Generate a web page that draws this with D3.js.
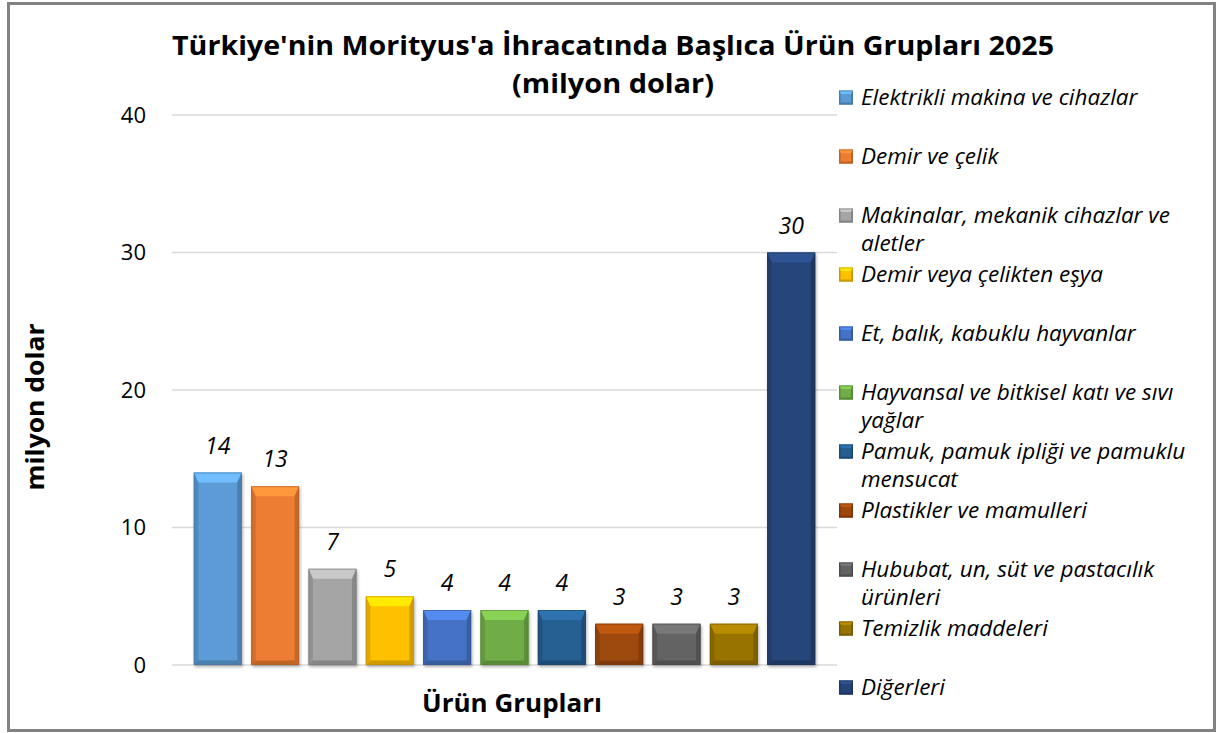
<!DOCTYPE html>
<html>
<head>
<meta charset="utf-8">
<script src="https://cdn.jsdelivr.net/npm/d3@7"></script>
<style>
  body { margin: 0; background: #fff; }
  svg { display: block; }
</style>
</head>
<body>
<div id="viz"></div>
<script>
const categories = [
  'Elektrikli makina ve cihazlar',
  'Demir ve çelik',
  'Makinalar, mekanik cihazlar ve aletler',
  'Demir veya çelikten eşya',
  'Et, balık, kabuklu hayvanlar',
  'Hayvansal ve bitkisel katı ve sıvı yağlar',
  'Pamuk, pamuk ipliği ve pamuklu mensucat',
  'Plastikler ve mamulleri',
  'Hububat, un, süt ve pastacılık ürünleri',
  'Temizlik maddeleri',
  'Diğerleri'
];
const values = [14, 13, 7, 5, 4, 4, 4, 3, 3, 3, 30];
const colors = ['#5b9bd5', '#ed7d31', '#a5a5a5', '#ffc000', '#4472c4', '#70ad47',
                '#255e91', '#9e480e', '#636363', '#997300', '#264478'];
const yTicks = [0, 10, 20, 30, 40];

const WIDTH = 1219;
const HEIGHT = 733;
const PLOT = { left: 172, right: 837, top: 115, bottom: 665 };

const svg = d3.select('#viz').append('svg')
  .attr('width', WIDTH)
  .attr('height', HEIGHT);

svg.append('rect')
  .attr('x', 8.5).attr('y', 3.5)
  .attr('width', 1206).attr('height', 727)
  .attr('fill', '#fff')
  .attr('stroke', '#828282')
  .attr('stroke-width', 3);

const defs = svg.append('defs');
const shadow = defs.append('filter').attr('id', 'shadow')
  .attr('x', '-20%').attr('y', '-10%').attr('width', '140%').attr('height', '130%');
shadow.append('feDropShadow')
  .attr('dx', 1).attr('dy', 2).attr('stdDeviation', 1.5)
  .attr('flood-color', '#000').attr('flood-opacity', 0.3);

const x = d3.scaleBand()
  .domain(d3.range(values.length))
  .range([PLOT.left, PLOT.right])
  .paddingInner(0.163)
  .paddingOuter(0.38);

const y = d3.scaleLinear()
  .domain([0, 40])
  .range([PLOT.bottom, PLOT.top]);

// gridlines
svg.append('g')
  .selectAll('line')
  .data(yTicks)
  .join('line')
    .attr('x1', PLOT.left).attr('x2', PLOT.right)
    .attr('y1', d => y(d)).attr('y2', d => y(d))
    .attr('stroke', '#d9d9d9')
    .attr('stroke-width', 1.5);

// y axis labels
const yAxis = svg.append('g')
  .attr('transform', `translate(${PLOT.left}, 0)`)
  .call(d3.axisLeft(y).tickValues(yTicks).tickSize(0).tickPadding(26));
yAxis.select('.domain').remove();
yAxis.selectAll('text')
  .attr('font-family', 'Open Sans, sans-serif')
  .attr('font-size', 22)
  .attr('fill', '#000');

// bevelled bar
function drawBevel(g, bx, by, bw, bh, color, t) {
  const c = d3.color(color);
  g.append('rect')
    .attr('x', bx).attr('y', by).attr('width', bw).attr('height', bh)
    .attr('fill', c.formatHex());
  const s = Math.min(t, bh / 2);
  const side = Math.max(2, t * 0.45);
  // top
  g.append('polygon')
    .attr('points', [[bx, by], [bx + bw, by], [bx + bw - side, by + s], [bx + side, by + s]].join(' '))
    .attr('fill', c.brighter(0.55).formatHex());
  // left
  g.append('polygon')
    .attr('points', [[bx, by], [bx + side, by + s], [bx + side, by + bh - side], [bx, by + bh]].join(' '))
    .attr('fill', c.darker(0.35).formatHex());
  // right
  g.append('polygon')
    .attr('points', [[bx + bw, by], [bx + bw, by + bh], [bx + bw - side, by + bh - side], [bx + bw - side, by + s]].join(' '))
    .attr('fill', c.darker(0.55).formatHex());
  // bottom
  g.append('polygon')
    .attr('points', [[bx, by + bh], [bx + side, by + bh - side], [bx + bw - side, by + bh - side], [bx + bw, by + bh]].join(' '))
    .attr('fill', c.darker(0.6).formatHex());
  g.append('rect')
    .attr('x', bx + 0.5).attr('y', by + 0.5).attr('width', bw - 1).attr('height', bh - 1)
    .attr('fill', 'none')
    .attr('stroke', c.darker(0.8).formatHex())
    .attr('stroke-opacity', 0.6);
}

const bars = svg.append('g').attr('class', 'bars');
values.forEach((v, i) => {
  const g = bars.append('g').attr('filter', 'url(#shadow)');
  drawBevel(g, x(i), y(v), x.bandwidth(), y(0) - y(v), colors[i], 10);
});

// value labels
svg.append('g')
  .selectAll('text')
  .data(values)
  .join('text')
    .attr('x', (d, i) => x(i) + x.bandwidth() / 2)
    .attr('y', d => y(d) - 19)
    .attr('text-anchor', 'middle')
    .attr('font-family', 'Open Sans, sans-serif')
    .attr('font-style', 'italic')
    .attr('font-size', 23)
    .attr('fill', '#000')
    .text(d => d);

// titles
const title = svg.append('g')
  .attr('font-family', 'Open Sans, sans-serif')
  .attr('font-weight', 'bold')
  .attr('text-anchor', 'middle')
  .attr('fill', '#000');
title.append('text')
  .attr('x', 613).attr('y', 55)
  .attr('font-size', 27)
  .attr('textLength', 882)
  .attr('lengthAdjust', 'spacingAndGlyphs')
  .text("Türkiye'nin Morityus'a İhracatında Başlıca Ürün Grupları 2025");
title.append('text')
  .attr('x', 613).attr('y', 93)
  .attr('font-size', 27)
  .attr('textLength', 202)
  .attr('lengthAdjust', 'spacingAndGlyphs')
  .text('(milyon dolar)');

svg.append('text')
  .attr('x', 512).attr('y', 712)
  .attr('text-anchor', 'middle')
  .attr('font-family', 'Open Sans, sans-serif')
  .attr('font-weight', 'bold')
  .attr('font-size', 25)
  .attr('textLength', 180)
  .attr('lengthAdjust', 'spacingAndGlyphs')
  .text('Ürün Grupları');

svg.append('text')
  .attr('transform', 'translate(44, 407) rotate(-90)')
  .attr('text-anchor', 'middle')
  .attr('font-family', 'Open Sans, sans-serif')
  .attr('font-weight', 'bold')
  .attr('font-size', 25)
  .attr('textLength', 167)
  .attr('lengthAdjust', 'spacingAndGlyphs')
  .text('milyon dolar');

// legend
const LEG_FS = 22.5;
const legY = d3.scaleLinear().domain([0, categories.length - 1]).range([97, 687]);
const legend = svg.append('g')
  .attr('font-family', 'Open Sans, sans-serif')
  .attr('font-style', 'italic')
  .attr('font-size', LEG_FS);

categories.forEach((name, i) => {
  const cy = legY(i);
  const item = legend.append('g');
  drawBevel(item, 839, cy - 6.5, 14, 14, colors[i], 3.5);
  const text = item.append('text').attr('x', 861).attr('y', cy + LEG_FS * 0.35);
  // wrap words to the legend width
  const words = name.split(' ');
  let line = [];
  let tspan = text.append('tspan').attr('x', 861).attr('dy', 0);
  words.forEach(w => {
    line.push(w);
    tspan.text(line.join(' '));
    if (tspan.node().getComputedTextLength() > 340 && line.length > 1) {
      line.pop();
      tspan.text(line.join(' '));
      line = [w];
      tspan = text.append('tspan').attr('x', 861).attr('dy', 28).text(w);
    }
  });
});
</script>
</body>
</html>
